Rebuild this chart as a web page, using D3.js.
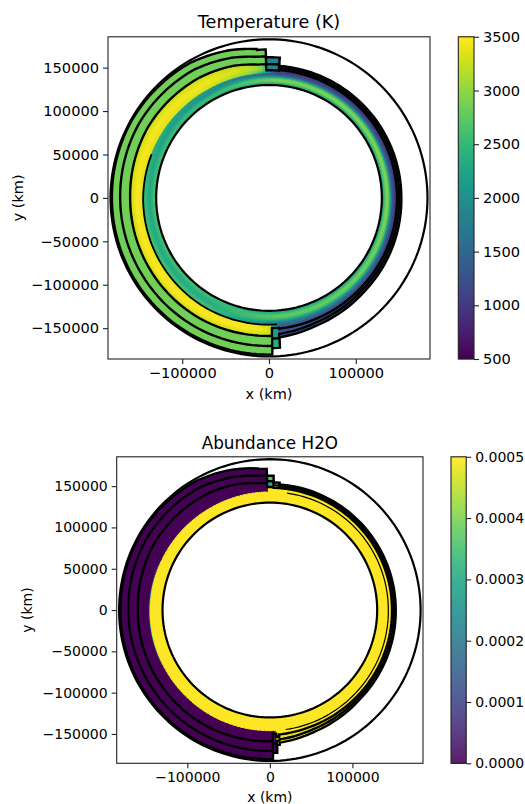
<!DOCTYPE html>
<html><head><meta charset="utf-8">
<style>html,body{margin:0;padding:0;background:#fff;overflow:hidden}svg{display:block}text{font-family:"DejaVu Sans";fill:#000}</style>
<script src="https://cdn.jsdelivr.net/npm/d3@7"></script></head><body><div id="c"></div>
<script>
// boundaries of the shaded layers, in 1000 km, read at angles (deg) counter-clockwise from +y
const linePhiT=[-4.4,1.2,1.3,4.6,4.7,15,30,60,90,120,150,175,181.2,181.3,184.2,184.3,200,225,270,315,355.6];
const dT=[162,162,171,171,172,176,180,181.5,181,181,181,180.5,180.5,173,173,161,157,154,152.5,152.5,152.5];
const cT=[154,154,163,163,163,167,171,172.5,171.5,171,171,170.5,170.5,162,162,157,153.5,151,150,150,150];
const bT=[147,147,154,154,154,157.5,160,161.5,160,160,160,159,159,150,150,151,149.5,148,147.5,147.5,147.5];
const aT=[143,143,143,143,143,143,143,144,145,145.5,146,146,146,146,146,146,145.5,144.5,143.5,143.5,143];

const linePhiH=[-4.4,-1.7,-1.6,1.2,1.3,4.6,4.7,15,30,60,90,120,150,175,181.2,181.3,183,183.1,184.2,184.3,200,225,270,315,355.6];
const dH=[154.6,154.6,162.6,162.6,171,171,172,176,180,181.5,181,181,181,180.5,180.5,173,173,163.5,163.5,161,157,153.5,152.5,152.5,152.5];
const cH=[151,151,156,156,163,163,163,167,171,172.5,171.5,171,171,170.5,170.5,162,162,158.6,158.6,157,153.5,151,150.3,150.3,150.3];
const bH=[148,148,149,149,154,154,154,157.5,160,161.5,160,160,160,159,159,150,150,154,154,151,149.5,148.5,148,148,148];
const aH=[143,143,143,143,143,143,143,143,143,144,145,145.5,146,146,146,146,146,146,146,146,145.5,144.5,143.5,143.5,143];

// temperature (K) by layer
const aPhi=[-5,30,90,150,185,270,356];
const tempA=[[2000,2200,2350,2350,2100,2000,2000],
 [2400,2500,2650,2600,2400,2400,2400],
 [2950,2550,2350,2400,2800,2950,2950],
 [2850,2100,2300,2350,2650,2900,2850],
 [2000,2000,2550,2550,2100,2000,2000],
 [1000,2200,2450,2650,1500,1000,1000]];
const bPhiT=[-5,-1,1.2,3,8,15,30,90,150,170,178,181.2,181.3,184.2,184.3,200,270,356];
const tempB=[[1000,1000,1800,2200,2800,3000,3300,3350,3400,3450,3300,3100,2200,2000,1400,1300,1000,1000],
 [1100,1500,2400,2900,3200,3350,3450,3500,3500,3500,3450,3300,2200,2100,1400,1300,1000,1100],
 [1100,1700,2600,2900,3100,3200,3250,3250,3250,3250,3200,3200,2200,2200,1300,1200,1000,1100]];
const cPhiT=[-5,1.2,1.3,181.2,181.3,184.2,184.3,356];
const tempC=[1850,1850,2850,2850,2150,2150,1250,1250];
const tempD=[1800,1800,2850,2850,2350,2350,1250,1250];

// H2O abundance by layer
const h2oA=[[.0005,.0005,.0005,.0005,.0005,.0005,.0005]];
const bPhiH=[-5,1.2,1.3,65,80,90,105,120,181.2,183,183.1,356];
const h2oB=[[.0005,.0005,0,0,.0004,.00045,.0004,0,0,0,.0005,.0005],
 [.0005,.0005,0,0,0,0,0,0,0,0,.0005,.0005],
 [.0005,.0005,0,0,0,0,0,0,0,0,.0005,.0005],
 [.0005,.0005,0,0,0,0,0,0,0,0,.0005,.0005],
 [.0005,.0005,0,0,0,0,0,0,0,0,.0005,.0005],
 [.0005,.0005,0,0,0,0,0,0,0,0,.0005,.0005],
 [.0005,.0005,0,0,0,0,0,0,0,0,.0005,.0005]];
const cPhiH=[-5,-1.7,-1.6,1.2,1.3,183,183.1,356];
const h2oC=[.0005,.0005,.00032,.00032,0,0,.00048,.00048];
const h2oD=[.0005,.0005,.00036,.00036,0,0,.00048,.00048];

const xyTicks=[-150000,-100000,-50000,0,50000,100000,150000];
const xTicks=[-100000,0,100000];
const tempTicks=[500,1000,1500,2000,2500,3000,3500];
const h2oTicks=[0,.0001,.0002,.0003,.0004,.0005];
const surfaceR=130,outerR=182.6,extent=185500;

const svg=d3.select("#c").append("svg").attr("width",525).attr("height",804);

function panel(o){
  const g=svg.append("g");
  const x=d3.scaleLinear().domain([-extent,extent]).range([o.l,o.r]);
  const y=d3.scaleLinear().domain([-extent,extent]).range([o.b,o.t]);
  const color=d3.scaleSequential(d3.interpolateViridis).domain(o.domain);
  const L=arr=>d3.scaleLinear().domain(o.phi).range(arr);
  const la=L(o.a),lb=L(o.b2),lc=L(o.c),ld=L(o.d);
  const pt=(phi,r)=>{const t=phi*Math.PI/180;return [x(-r*1000*Math.sin(t)),y(r*1000*Math.cos(t))];};
  const rowsA=o.A.map(r=>d3.scaleLinear().domain(aPhi).range(r));
  const rowsB=o.B.map(r=>d3.scaleLinear().domain(o.bPhi).range(r));
  const sc=d3.scaleLinear().domain(o.cPhi).range(o.C), sd=d3.scaleLinear().domain(o.cPhi).range(o.D);
  const radial=(rows,phi,t)=>{ if(rows.length===1) return rows[0](phi);
    const f=t*(rows.length-1),i=Math.min(rows.length-2,Math.floor(f));
    return d3.interpolateNumber(rows[i](phi),rows[i+1](phi))(f-i);};
  let edges=d3.range(-4.4,355.6,2).concat(o.phi,o.bPhi.filter(v=>v>-4.4&&v<355.6),o.cPhi.filter(v=>v>-4.4&&v<355.6));
  edges=Array.from(new Set(edges)).sort(d3.ascending);
  const line=d3.line();
  const cells=g.append("g");
  const cell=(p0,p1,r0a,r1a,r0b,r1b,v)=>{
    const d=line([pt(p0,r0a),pt(p0,r1a),pt(p1,r1b),pt(p1,r0b)])+"Z";
    cells.append("path").attr("d",d).attr("fill",color(v)).attr("stroke",color(v)).attr("stroke-width",1);
  };
  for(let i=0;i<edges.length-1;i++){
    const p0=edges[i],p1=edges[i+1],m=(p0+p1)/2;
    if(p1-p0<=0) continue;
    const q0=p0+1e-3,q1=p1-1e-3;
    const band=(f0,f1,n,val)=>{
      for(let k=0;k<n;k++){
        const a0=k/n,a1=(k+1)/n;
        const R=(f,p)=>f===null?surfaceR:f(p);
        const r=(p,s)=>R(f0,p)+(R(f1,p)-R(f0,p))*s;
        cell(q0,q1,r(q0,a0),r(q0,a1),r(q1,a0),r(q1,a1),val((a0+a1)/2,m));
      }
    };
    band(lc,ld,1,(t,p)=>sd(p));
    band(lb,lc,1,(t,p)=>sc(p));
    band(la,lb,8,(t,p)=>radial(rowsB,p,t));
    band(null,la,10,(t,p)=>radial(rowsA,p,t));
  }
  const lineG=g.append("g").attr("fill","none").attr("stroke","#000").attr("stroke-width",2.4).attr("stroke-linejoin","miter");
  [lb,lc,ld].forEach(f=>{
    const pts=edges.map(p=>pt(p,f(p)));
    lineG.append("path").attr("d",line(pts)+"Z");
  });
  o.aRanges.forEach(rg=>{
    const pts=edges.filter(p=>p>=rg[0]&&p<=rg[1]).map(p=>pt(p,la(p)));
    lineG.append("path").attr("d",line(pts)).attr("stroke-width",rg[2]);
  });
  const circ=d3.range(0,361,2);
  [surfaceR,outerR].forEach(R=>lineG.append("path").attr("d",line(circ.map(p=>pt(p,R)))+"Z").attr("stroke-width",2.2));

  g.append("rect").attr("x",o.l).attr("y",o.t).attr("width",o.r-o.l).attr("height",o.b-o.t)
   .attr("fill","none").attr("stroke","#222").attr("stroke-width",1.1);
  const fmt=d3.format("d");
  const ax=g.append("g").attr("transform",`translate(0,${o.b})`).call(d3.axisBottom(x).tickValues(xTicks).tickFormat(fmt).tickSize(5).tickPadding(4));
  const ay=g.append("g").attr("transform",`translate(${o.l},0)`).call(d3.axisLeft(y).tickValues(xyTicks).tickFormat(fmt).tickSize(5).tickPadding(4));
  [ax,ay].forEach(a=>{a.select(".domain").remove();a.selectAll("text").style("font-family","DejaVu Sans").style("font-size",o.fs+"px").attr("fill","#000");a.selectAll("line").attr("stroke","#222").attr("stroke-width",1.1);});
  g.append("text").attr("x",(o.l+o.r)/2).attr("y",o.titleY).attr("text-anchor","middle").style("font-size",o.tfs+"px").text(o.title);
  g.append("text").attr("x",(o.l+o.r)/2).attr("y",o.xlY).attr("text-anchor","middle").style("font-size",o.lfs+"px").text("x (km)");
  g.append("text").attr("transform",`translate(${o.ylX},${(o.t+o.b)/2}) rotate(-90)`).attr("text-anchor","middle").style("font-size",o.lfs+"px").text("y (km)");

  const cy=d3.scaleLinear().domain(o.domain).range([o.b,o.t]);
  const cb=g.append("g");
  d3.range(Math.ceil(o.b-o.t)).forEach(i=>{
    cb.append("rect").attr("x",o.cl).attr("y",o.b-i-1).attr("width",o.cr-o.cl).attr("height",1.3)
      .attr("fill",color(cy.invert(o.b-i-0.5)));
  });
  cb.append("rect").attr("x",o.cl).attr("y",o.t).attr("width",o.cr-o.cl).attr("height",o.b-o.t)
    .attr("fill","none").attr("stroke","#222").attr("stroke-width",1.1);
  const ac=cb.append("g").attr("transform",`translate(${o.cr},0)`).call(d3.axisRight(cy).tickValues(o.ticks).tickFormat(o.tf).tickSize(5).tickPadding(4));
  ac.select(".domain").remove();
  ac.selectAll("text").style("font-family","DejaVu Sans").style("font-size",o.fs+"px").attr("fill","#000");
  ac.selectAll("line").attr("stroke","#222").attr("stroke-width",1.1);
}

panel({l:108,r:430,t:36.8,b:359,cl:458.3,cr:474,domain:[500,3500],ticks:tempTicks,tf:d3.format("d"),
  phi:linePhiT,a:aT,b2:bT,c:cT,d:dT,A:tempA,B:tempB,bPhi:bPhiT,C:tempC,D:tempD,cPhi:cPhiT,
  aRanges:[[68,184,1.8]],title:"Temperature (K)",titleY:28,xlY:399,ylX:23,fs:14.6,tfs:17.6,lfs:14.5});
panel({l:116.7,r:423,t:456.8,b:763.3,cl:451,cr:466.2,domain:[0,.0005],ticks:h2oTicks,tf:d3.format(".4f"),
  phi:linePhiH,a:aH,b2:bH,c:cH,d:dH,A:h2oA,B:h2oB,bPhi:bPhiH,C:h2oC,D:h2oD,cPhi:cPhiH,
  aRanges:[[186,352,1.2]],title:"Abundance H2O",titleY:449,xlY:802,ylX:32,fs:14,tfs:16.8,lfs:14});
</script></body></html>
